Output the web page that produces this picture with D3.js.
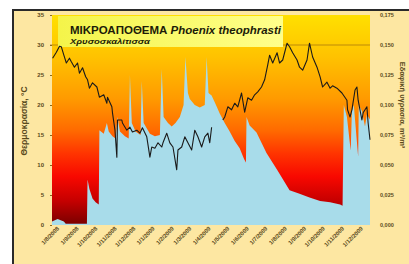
<!DOCTYPE html>
<html><head><meta charset="utf-8">
<script src="https://cdn.jsdelivr.net/npm/d3@7"></script>
<style>html,body{margin:0;padding:0;background:#fff;}svg{display:block;}</style>
</head><body>
<script>
// ---- data ----
const startDate = new Date(2008, 7, 1); // day 0
const xTickLabels = ["1/8/2008","1/9/2008","1/10/2008","1/11/2008","1/12/2008","1/1/2009","1/2/2009","1/3/2009","1/4/2009","1/5/2009","1/6/2009","1/7/2009","1/8/2009","1/9/2009","1/10/2009","1/11/2009","1/12/2009"];
const tempTicks = [0,5,10,15,20,25,30,35];
const moistTicks = [0,0.025,0.05,0.075,0.1,0.125,0.15,0.175];

// temperature (°C), day offsets from 1/8/2008; null = gap
const tempDays = [0,6,11,14,18,22,27,30,35,40,43,48,53,56,59,64,71,75,82,87,88,95,96,100,103,104,111,112,119,124,128,135,140,144,151,156,159,164,169,175,177,183,188,193,199,201,207,212,217,223,228,233,239,244,249,252,255,264,273,276,281,287,292,297,303,308,313,319,324,329,335,340,345,348,353,360,364,369,376,380,385,392,396,401,408,412,417,424,429,433,440,445,449,456,464,472,473,477,480,485,488,490,496,498,504,506,509];
const tempVals = [27.8,28.8,29.8,29.7,28.3,27.0,27.8,27.2,26.3,27.0,25.3,26.2,24.7,24.2,22.8,23.7,23.0,21.3,21.7,20.3,21.3,19.7,18.7,15.8,11.3,17.5,17.5,17.0,15.8,16.3,15.5,15.8,15.3,16.2,14.7,11.3,13.0,12.8,13.7,13.0,13.7,15.3,13.7,13.0,9.2,12.5,13.0,14.7,13.7,12.5,15.8,14.7,13.0,14.7,15.3,13.7,16.3,null,17.5,18.0,19.7,19.2,20.3,19.7,22.0,18.8,21.2,20.8,21.7,22.2,23.0,24.2,26.7,28.3,27.0,28.7,27.0,27.5,30.3,29.7,28.7,27.5,26.3,25.8,27.5,30.3,28.0,26.3,24.7,23.0,23.8,22.8,23.2,22.8,22.0,20.8,19.2,18.0,19.2,22.5,23.0,20.8,17.5,18.7,19.7,17.0,14.2];

// soil moisture (right axis), day offsets
const moistDays = [-1,8,18,21,55,56,59,64,69,74,75,82,87,90,96,101,104,108,116,122,124,127,133,141,143,146,156,164,172,175,178,185,191,197,204,210,213,217,220,228,236,244,247,250,255,262,268,276,284,292,300,307,310,311,316,327,343,360,380,396,412,429,445,461,465,467,472,478,480,483,490,491,496,501,504,509];
const moistVals = [0.003,0.005,0.003,0.001,0.001,0.038,0.030,0.022,0.019,0.017,0.079,0.076,0.085,0.078,0.074,0.072,0.090,0.078,0.074,0.072,0.125,0.085,0.078,0.075,0.120,0.085,0.076,0.074,0.075,0.130,0.090,0.085,0.082,0.085,0.090,0.100,0.140,0.110,0.105,0.100,0.098,0.100,0.140,0.110,0.108,0.100,0.093,0.085,0.078,0.070,0.064,0.055,0.052,0.090,0.083,0.077,0.060,0.046,0.029,0.026,0.023,0.020,0.019,0.017,0.016,0.100,0.090,0.062,0.095,0.100,0.057,0.100,0.095,0.082,0.092,0.088];

// ---- drawing ----
const W = 409, H = 264;
const svg = d3.select("body").append("svg").attr("width", W).attr("height", H);
const defs = svg.append("defs");

const pl = 52, pr = 370, pt = 15, pb = 225;
const dayToDate = d => d3.timeDay.offset(startDate, d);
const x = d3.scaleTime().domain([dayToDate(-1), dayToDate(509)]).range([pl, pr]);
const yT = d3.scaleLinear().domain([0, 35]).range([pb, pt]);
const yM = d3.scaleLinear().domain([0, 0.175]).range([pb, pt]);

// frame
svg.append("rect").attr("x", 13).attr("y", 10).attr("width", 420).attr("height", 280)
  .attr("fill", "#fde7a2").attr("stroke", "#2a2a2a").attr("stroke-width", 2);

// gradient background of plot
const g = defs.append("linearGradient").attr("id", "bg").attr("x1", 0).attr("y1", 0).attr("x2", 0).attr("y2", 1);
[[0,"#ffe000"],[0.2,"#ffc200"],[0.4,"#ff9a00"],[0.55,"#ff6a00"],[0.66,"#ff3400"],[0.77,"#f80800"],[0.88,"#c80000"],[1,"#780000"]]
  .forEach(([o,c]) => g.append("stop").attr("offset", o).attr("stop-color", c));
svg.append("rect").attr("x", pl).attr("y", pt).attr("width", pr - pl).attr("height", pb - pt).attr("fill", "url(#bg)");

// moisture area
const moist = moistDays.map((d, i) => ({date: dayToDate(d), v: moistVals[i]}));
svg.append("path").datum(moist)
  .attr("fill", "#a8dcea")
  .attr("d", d3.area().x(d => x(d.date)).y0(pb).y1(d => yM(d.v)));

// 30°C line
svg.append("line").attr("x1", pl - 2).attr("x2", pr).attr("y1", yT(30)).attr("y2", yT(30))
  .attr("stroke", "#9a6a10").attr("stroke-width", 0.8).attr("opacity", 0.8);

// title box
const tg = defs.append("linearGradient").attr("id", "tb").attr("x1", 0).attr("x2", 1).attr("y1", 0).attr("y2", 0);
tg.append("stop").attr("offset", 0).attr("stop-color", "#f4f44a");
tg.append("stop").attr("offset", 1).attr("stop-color", "#ffff8c");
svg.append("rect").attr("x", 58).attr("y", 16).attr("width", 225).attr("height", 31).attr("fill", "url(#tb)");
const t1 = svg.append("text").attr("x", 70).attr("y", 33.5)
  .attr("font-family", "Liberation Sans, Arial, sans-serif").attr("font-size", 11).attr("font-weight", "bold")
  .attr("fill", "#1c1c08").attr("textLength", 211).attr("lengthAdjust", "spacingAndGlyphs");
t1.append("tspan").text("ΜΙΚΡΟΑΠΟΘΕΜΑ ");
t1.append("tspan").attr("font-style", "italic").text("Phoenix theophrasti");
svg.append("text").attr("x", 70).attr("y", 44)
  .attr("font-family", "Liberation Sans, Arial, sans-serif").attr("font-size", 8).attr("font-weight", "bold")
  .attr("font-style", "italic").attr("fill", "#1c1c08").attr("textLength", 80).attr("lengthAdjust", "spacingAndGlyphs")
  .text("Χρυσοσκαλίτισσα");

// temperature line
const temp = tempDays.map((d, i) => ({date: dayToDate(d), v: tempVals[i]}));
svg.append("path").datum(temp)
  .attr("fill", "none").attr("stroke", "#1a1a1a").attr("stroke-width", 1.1).attr("stroke-linejoin", "round")
  .attr("d", d3.line().defined(d => d.v !== null).x(d => x(d.date)).y(d => yT(d.v)));

// axes
const txtCol = "#5a4a1c";
const axL = svg.append("g").attr("transform", `translate(${pl},0)`)
  .call(d3.axisLeft(yT).tickValues(tempTicks).tickSize(2).tickPadding(6));
const axR = svg.append("g").attr("transform", `translate(${pr},0)`)
  .call(d3.axisRight(yM).tickValues(moistTicks).tickSize(0).tickPadding(10)
    .tickFormat(d => d3.format(".3f")(d).replace(".", ",")));
const parseDM = d3.timeParse("%d/%m/%Y");
const axB = svg.append("g").attr("transform", `translate(0,${pb})`)
  .call(d3.axisBottom(x).tickValues(xTickLabels.map(parseDM)).tickSize(0).tickPadding(4)
    .tickFormat((d, i) => xTickLabels[i]));
[axL, axR, axB].forEach(a => {
  a.select(".domain").remove();
  a.selectAll("line").attr("stroke", "#8a6a20");
  a.selectAll("text").attr("fill", txtCol).attr("font-family", "Liberation Sans, Arial, sans-serif")
    .attr("font-size", 6).attr("font-weight", "bold");
});
axB.selectAll("text").attr("text-anchor", "end").attr("dx", "0.3em").attr("dy", "0.6em")
  .attr("transform", "rotate(-45)").attr("font-size", 5.8);
axR.selectAll("text").attr("font-size", 5.5);

// axis titles
svg.append("text").attr("transform", "translate(27,121) rotate(-90)").attr("text-anchor", "middle")
  .attr("font-family", "Liberation Sans, Arial, sans-serif").attr("font-size", 8.5).attr("font-weight", "bold")
  .attr("fill", txtCol).text("Θερμοκρασία, °C");
svg.append("text").attr("transform", "translate(400,105) rotate(90)").attr("text-anchor", "middle")
  .attr("font-family", "Liberation Sans, Arial, sans-serif").attr("font-size", 7.5).attr("font-weight", "bold")
  .attr("fill", txtCol).text("Εδαφική υγρασία, m³/m³");
</script>
</body></html>
